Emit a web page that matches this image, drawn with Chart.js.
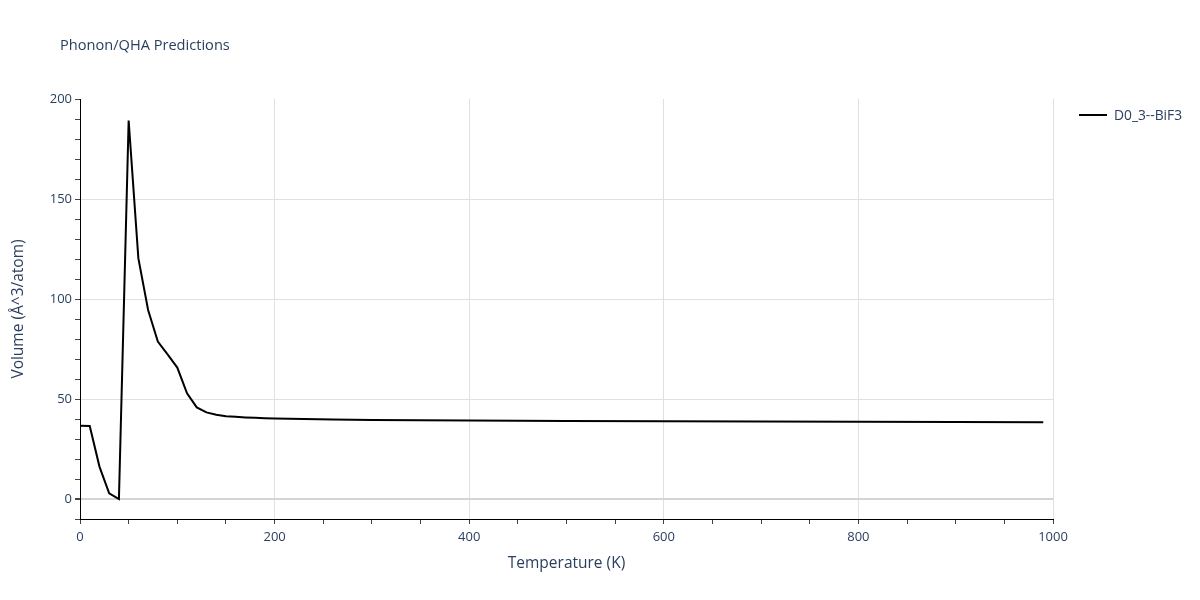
<!DOCTYPE html>
<html>
<head>
<meta charset="utf-8">
<script src="https://cdn.jsdelivr.net/npm/chart.js@4.4.1/dist/chart.umd.min.js"></script>
<style>
  body { margin: 0; background: #fff; font-family: "Open Sans", sans-serif; }
  #wrap { position: relative; width: 1200px; height: 600px; }
  #title { position: absolute; left: 60px; top: 34px; font-size: 14.6px; color: #2a3f5f; }
  #legend { position: absolute; left: 1079px; top: 105px; font-size: 13.8px; color: #2a3f5f; display: flex; align-items: center; }
  #legend .swatch { width: 28px; height: 2px; background: #000; margin-right: 7px; }
</style>
</head>
<body>
<div id="wrap">
  <canvas id="chart" width="1200" height="600"></canvas>
  <div id="title">Phonon/QHA Predictions</div>
  <div id="legend"><span class="swatch"></span><span id="legendLabel"></span></div>
</div>
<script>
// values
const seriesName = 'D0_3--BiF3';
const temperatures = [0, 10, 20, 30, 40, 50, 60, 70, 80, 90, 100, 110, 120, 130, 140, 150,
    160, 170, 180, 190, 200, 260, 300, 400, 500, 600, 700, 800, 900, 990];
const volumes = [36.6, 36.5, 16.2, 2.8, 0.0, 189.2, 120.3, 94.5, 78.7, 72.3, 65.7, 52.8, 45.8, 43.3, 42.1, 41.4,
    41.1, 40.8, 40.6, 40.4, 40.3, 39.7, 39.5, 39.2, 39.0, 38.9, 38.8, 38.6, 38.5, 38.4];
const xTickLabels = [0, 200, 400, 600, 800, 1000];
const yTickLabels = [0, 50, 100, 150, 200];

document.getElementById('legendLabel').textContent = seriesName;

const textColor = '#2a3f5f';
const gridColor = '#e0e0e0';

new Chart(document.getElementById('chart').getContext('2d'), {
    type: 'line',
    data: {
        datasets: [{
            label: seriesName,
            data: temperatures.map((t, i) => ({ x: t, y: volumes[i] })),
            borderColor: '#000',
            borderWidth: 2,
            pointRadius: 0,
            tension: 0,
            fill: false
        }]
    },
    options: {
        responsive: false,
        animation: false,
        layout: { padding: { left: 0, right: 147, top: 99, bottom: 0 } },
        plugins: { legend: { display: false }, tooltip: { enabled: false } },
        scales: {
            x: {
                type: 'linear',
                min: 0,
                max: 1000,
                afterFit: scale => { scale.height = 81; },
                border: { display: true, color: '#000', width: 1 },
                grid: {
                    color: ctx => (xTickLabels.includes(ctx.tick.value) && ctx.tick.value !== 0) ? gridColor : 'rgba(0,0,0,0)',
                    tickColor: '#444',
                    tickLength: 5,
                    drawOnChartArea: true
                },
                ticks: {
                    stepSize: 50,
                    autoSkip: false,
                    maxRotation: 0,
                    padding: 5,
                    color: textColor,
                    font: { family: 'Open Sans', size: 13 },
                    callback: v => xTickLabels.includes(v) ? v : ''
                },
                title: {
                    display: true,
                    text: 'Temperature (K)',
                    color: textColor,
                    font: { family: 'Open Sans', size: 15.5 },
                    padding: { top: 0, bottom: 27 }
                }
            },
            y: {
                type: 'linear',
                min: -10,
                max: 200,
                afterFit: scale => { scale.width = 80; },
                border: { display: true, color: '#000', width: 1 },
                grid: {
                    color: ctx => ctx.tick.value === 0 ? '#d4d4d4' : (yTickLabels.includes(ctx.tick.value) && ctx.tick.value !== 200 ? gridColor : 'rgba(0,0,0,0)'),
                    lineWidth: ctx => ctx.tick.value === 0 ? 2 : 1,
                    tickColor: '#444',
                    tickLength: 5
                },
                ticks: {
                    stepSize: 10,
                    autoSkip: false,
                    padding: 3,
                    color: textColor,
                    font: { family: 'Open Sans', size: 13 },
                    callback: v => yTickLabels.includes(v) ? v : ''
                },
                title: {
                    display: true,
                    text: 'Volume (Å^3/atom)',
                    color: textColor,
                    font: { family: 'Open Sans', size: 15.5 },
                    padding: { top: 9, bottom: 0 }
                }
            }
        }
    }
});
</script>
</body>
</html>
